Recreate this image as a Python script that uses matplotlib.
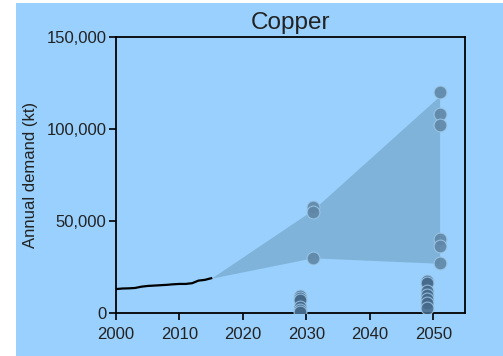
import matplotlib
matplotlib.use("Agg")
import matplotlib.pyplot as plt
from matplotlib.patches import Rectangle
from matplotlib.ticker import FuncFormatter

plt.rcParams['font.family'] = ['Liberation Sans', 'DejaVu Sans']

# Historical copper demand (kt)
hist_years = [2000, 2001, 2002, 2003, 2004, 2005, 2006, 2007, 2008, 2009,
              2010, 2011, 2012, 2013, 2014, 2015]
hist_demand = [13000, 13300, 13400, 13600, 14300, 14700, 14900, 15100, 15300, 15600,
               15800, 15800, 16200, 17600, 18000, 18900]

# Scenario range envelope
band_years = [2015, 2031, 2051]
band_low = [18900, 30000, 27000]
band_high = [18900, 56000, 118000]

# Total-demand scenario points
scen_years = [2031, 2031, 2031, 2051, 2051, 2051, 2051, 2051, 2051]
scen_values = [57500, 55000, 30000, 120000, 108000, 102000, 40000, 36500, 27000]

# Component scenario points
comp_years = [2029, 2029, 2029, 2029, 2029, 2029,
              2049, 2049, 2049, 2049, 2049, 2049, 2049]
comp_values = [9000, 8000, 7000, 3500, 1600, 300,
               17400, 16500, 12000, 9800, 7600, 5300, 2500]

y_ticks = [0, 50000, 100000, 150000]
x_ticks = [2000, 2010, 2020, 2030, 2040, 2050]

bg = '#99d0fd'

fig = plt.figure(figsize=(5.03, 3.56), dpi=100, facecolor='white')
fig.patches.append(Rectangle((16 / 503, 0), 1 - 16 / 503, 353 / 356,
                             transform=fig.transFigure, facecolor=bg,
                             edgecolor='none', zorder=-10))

ax = fig.add_axes([116 / 503, (356 - 313) / 356, (465 - 116) / 503, (313 - 37) / 356])
ax.set_facecolor(bg)

ax.fill_between(band_years, band_low, band_high, color='#7fb3d9', lw=0, zorder=1)
ax.plot(hist_years, hist_demand, color='black', lw=1.6, zorder=3)
ax.scatter(scen_years, scen_values, s=85, color='#5f86a6', edgecolor='#9cc6e6',
           linewidth=0.8, alpha=0.9, zorder=4)
ax.scatter(comp_years, comp_values, s=85, color='#46698a', edgecolor='#9cc6e6',
           linewidth=0.8, alpha=0.85, zorder=4)

ax.set_xlim(2000, 2055)
ax.set_ylim(0, 150000)
ax.set_xticks(x_ticks)
ax.set_yticks(y_ticks)
ax.yaxis.set_major_formatter(FuncFormatter(lambda v, p: f'{int(v):,}'))
ax.tick_params(direction='out', length=5, width=1.2, labelsize=12,
               colors='black', labelcolor='#222222')
ax.tick_params(axis='y', pad=2)
ax.tick_params(axis='x', pad=5)
for s in ax.spines.values():
    s.set_linewidth(1.3)
    s.set_color('black')

ax.set_ylabel('Annual demand (kt)', fontsize=12, color='#222222', labelpad=6)
ax.set_title('Copper', fontsize=17.5, color='#222222', pad=6)

fig.savefig('out.png', dpi=100, facecolor='white')
